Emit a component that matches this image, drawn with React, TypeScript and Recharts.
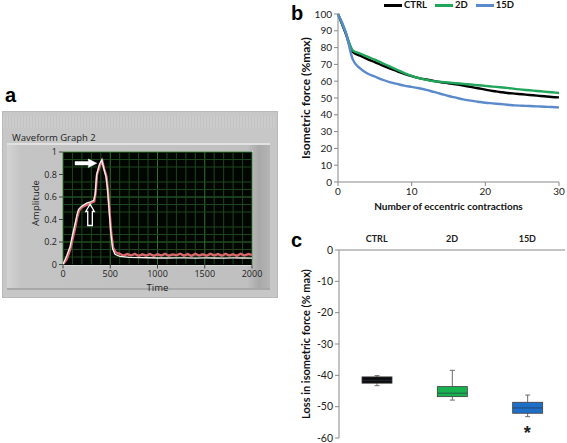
import React from 'react';
import {
  LineChart,
  Line,
  XAxis,
  YAxis,
  CartesianGrid,
  Legend,
  ReferenceDot,
  ReferenceLine,
  ComposedChart,
  Bar,
  Label,
} from 'recharts';

const FONT_A = '"Open Sans", "DejaVu Sans", sans-serif';
const FONT_BC = 'Lato, "Open Sans", sans-serif';
const FONT_LETTER = '"Liberation Sans", Arial, sans-serif';

// ---------------- Panel a: waveform ----------------
const timeTicks = [0, 500, 1000, 1500, 2000];
const timeMinorGrid = [100, 200, 300, 400, 600, 700, 800, 900, 1100, 1200, 1300, 1400, 1600, 1700, 1800, 1900];
const ampTicks = [0, 0.2, 0.4, 0.6, 0.8, 1];
const ampMinorGrid = [0.0667, 0.1333, 0.2667, 0.3333, 0.4667, 0.5333, 0.6667, 0.7333, 0.8667, 0.9333];

const whiteTime = [0, 40, 75, 100, 127, 150, 165, 200, 250, 300, 325, 340, 356, 385, 410, 430, 455, 470, 485, 505, 525, 550, 600, 700, 800, 900, 1000, 1100, 1200, 1300, 1400, 1500, 1600, 1700, 1800, 1900, 2000];
const whiteAmp = [0, 0.08, 0.16, 0.26, 0.36, 0.45, 0.49, 0.52, 0.545, 0.56, 0.57, 0.62, 0.8, 0.89, 0.93, 0.86, 0.78, 0.68, 0.52, 0.29, 0.14, 0.09, 0.072, 0.064, 0.061, 0.06, 0.058, 0.058, 0.059, 0.058, 0.057, 0.058, 0.058, 0.057, 0.058, 0.058, 0.057];

const redTime = [0, 40, 75, 100, 127, 150, 170, 200, 250, 300, 330, 345, 360, 390, 415, 435, 460, 475, 490, 510, 530, 555, 580, 600, 640, 680, 720, 760, 800, 840, 880, 920, 960, 1000, 1040, 1080, 1120, 1160, 1200, 1240, 1280, 1320, 1360, 1400, 1440, 1480, 1520, 1560, 1600, 1640, 1680, 1720, 1760, 1800, 1840, 1880, 1920, 1960, 2000];
const redAmp = [0, 0.05, 0.13, 0.22, 0.32, 0.42, 0.48, 0.51, 0.53, 0.55, 0.56, 0.64, 0.8, 0.88, 0.92, 0.85, 0.78, 0.66, 0.5, 0.28, 0.15, 0.11, 0.1, 0.095, 0.078, 0.092, 0.08, 0.094, 0.076, 0.09, 0.079, 0.093, 0.077, 0.091, 0.08, 0.095, 0.078, 0.09, 0.082, 0.096, 0.079, 0.092, 0.077, 0.094, 0.08, 0.09, 0.078, 0.095, 0.081, 0.092, 0.078, 0.094, 0.08, 0.091, 0.077, 0.095, 0.08, 0.093, 0.085];

const whiteData = whiteTime.map((t, i) => ({ t, amp: whiteAmp[i] }));
const redData = redTime.map((t, i) => ({ t, amp: redAmp[i] }));

// annotation anchors (data coordinates)
const peakArrowTip = { t: 357, amp: 0.9 };
const plateauArrowTip = { t: 286, amp: 0.536 };

// ---------------- Panel b: isometric force ----------------
const contractions = [0, 1, 2, 3, 4, 5, 6, 7, 8, 9, 10, 11, 12, 13, 14, 15, 16, 17, 18, 19, 20, 21, 22, 23, 24, 25, 26, 27, 28, 29, 30];
const ctrlForce = [100, 89, 77.4, 75.2, 73.2, 71.4, 69.4, 67.6, 66, 64.4, 63, 61.8, 61, 60.2, 59.4, 58.8, 58.2, 57.4, 56.6, 55.8, 55, 54.2, 53.6, 53, 52.6, 52.2, 51.8, 51.4, 51, 50.6, 50.4];
const d2Force = [100, 89.5, 78.4, 76.5, 74.6, 72.8, 70.8, 68.8, 66.8, 64.8, 63.2, 61.8, 60.8, 60, 59.6, 59.2, 58.8, 58.4, 58, 57.6, 57.2, 56.8, 56.4, 56, 55.4, 55, 54.6, 54.2, 53.8, 53.4, 53];
const d15Force = [100, 90, 73, 67.6, 64.6, 62.8, 61, 59.4, 58.4, 57.4, 56.6, 55.8, 54.8, 53.6, 52.4, 51.2, 50.2, 49.2, 48.4, 47.8, 47.2, 46.8, 46.4, 46, 45.6, 45.4, 45.2, 45, 44.8, 44.6, 44.4];
const forceTicks = [0, 10, 20, 30, 40, 50, 60, 70, 80, 90, 100];
const contractionTicks = [0, 10, 20, 30];

const forceData = contractions.map((n, i) => ({
  n,
  CTRL: ctrlForce[i],
  '2D': d2Force[i],
  '15D': d15Force[i],
}));

const seriesNames = ['CTRL', '2D', '15D'];
const lineColors = ['#000000', '#1fa65a', '#5a8acb'];

// ---------------- Panel c: loss boxplot ----------------
const groups = ['CTRL', '2D', '15D'];
const whiskerHigh = [-40.1, -38.4, -46.3];
const q3 = [-40.5, -43.6, -48.6];
const median = [-41.6, -45.7, -50.4];
const q1 = [-42.5, -46.8, -52.1];
const whiskerLow = [-43.3, -47.9, -53.2];
const boxColors = ['#0b0b0b', '#17b24f', '#1e6fc8'];
const lossTicks = [0, -10, -20, -30, -40, -50, -60];
const sigMarkY = -57.1;

const lossData = groups.map((g, i) => ({
  g,
  box: [q1[i], q3[i]],
  q1: q1[i],
  q3: q3[i],
  med: median[i],
  wLo: whiskerLow[i],
  wHi: whiskerHigh[i],
  color: boxColors[i],
}));

const BoxShape = (props: any) => {
  const { x, y, width, height, payload } = props;
  if (!payload) return null;
  const top = Math.min(y, y + height);
  const h = Math.abs(height);
  const ppu = h / (payload.q3 - payload.q1);
  const py = (v: number) => top + (payload.q3 - v) * ppu;
  const cx = x + width / 2;
  const cap = 2.5;
  return (
    <g>
      <line x1={cx} x2={cx} y1={py(payload.wHi)} y2={py(payload.q3)} stroke="#6b6b6b" strokeWidth={1} />
      <line x1={cx - cap} x2={cx + cap} y1={py(payload.wHi)} y2={py(payload.wHi)} stroke="#6b6b6b" strokeWidth={1} />
      <line x1={cx} x2={cx} y1={py(payload.q1)} y2={py(payload.wLo)} stroke="#6b6b6b" strokeWidth={1} />
      <line x1={cx - cap} x2={cx + cap} y1={py(payload.wLo)} y2={py(payload.wLo)} stroke="#6b6b6b" strokeWidth={1} />
      <rect x={x} y={top} width={width} height={h} fill={payload.color} stroke="#3d3d3d" strokeWidth={0.8} />
      <line x1={x} x2={x + width} y1={py(payload.med)} y2={py(payload.med)} stroke="#2b3b4b" strokeOpacity={0.8} strokeWidth={0.9} />
    </g>
  );
};

const LegendContent = () => (
  <div
    style={{
      display: 'flex',
      height: 14,
      alignItems: 'flex-start',
      fontFamily: FONT_BC,
      fontSize: 9.5,
      fontWeight: 700,
      color: '#111',
      lineHeight: '10px',
    }}
  >
    {seriesNames.map((name, i) => (
      <div key={name} style={{ display: 'flex', alignItems: 'center', height: 10, marginRight: 8 }}>
        <div style={{ width: 18, height: 3, background: lineColors[i] }} />
        <div style={{ marginLeft: 2 }}>{name}</div>
      </div>
    ))}
  </div>
);

const letterStyle: React.CSSProperties = {
  position: 'absolute',
  fontFamily: FONT_LETTER,
  fontWeight: 700,
  fontSize: 20,
  lineHeight: '20px',
  color: '#000',
};

export default function App() {
  return (
    <div
      style={{
        position: 'absolute',
        left: 0,
        top: 0,
        width: 567,
        height: 443,
        background: '#ffffff',
        overflow: 'hidden',
      }}
    >
      {/* Panel letters */}
      <div style={{ ...letterStyle, left: 5, top: 85 }}>a</div>
      <div style={{ ...letterStyle, left: 291, top: 3 }}>b</div>
      <div style={{ ...letterStyle, left: 291, top: 230 }}>c</div>

      {/* ---------- Panel a frame ---------- */}
      <div
        style={{
          position: 'absolute',
          left: 2,
          top: 111,
          width: 274,
          height: 185,
          background: '#c7c7c7',
          border: '1px solid #b9b9b9',
        }}
      />
      <div
        style={{
          position: 'absolute',
          left: 3,
          top: 116,
          width: 272,
          height: 12,
          background: 'repeating-linear-gradient(90deg, #cdcdcd 0px, #cdcdcd 2px, #c2c2c2 2px, #c2c2c2 3px)',
          opacity: 0.8,
        }}
      />
      <div
        style={{
          position: 'absolute',
          left: 12,
          top: 131,
          fontFamily: FONT_A,
          fontSize: 9.5,
          lineHeight: '13px',
          color: '#222',
        }}
      >
        Waveform Graph 2
      </div>
      <div
        style={{
          position: 'absolute',
          left: 7,
          top: 143,
          width: 263,
          height: 147,
          boxSizing: 'border-box',
          background: 'linear-gradient(90deg, #d4d4d4 0px, #c4c4c4 14px, #c0c0c0 240px, #a9a9a9 252px, #b5b5b5 263px)',
          borderTop: '2px solid #e2e2e2',
          borderBottom: '2px solid #a8a8a8',
        }}
      />
      <div
        style={{
          position: 'absolute',
          left: 62,
          top: 151,
          width: 191,
          height: 114.5,
          boxSizing: 'border-box',
          background: '#020602',
          border: '1px solid #d8d8d8',
        }}
      />
      <div style={{ position: 'absolute', left: 7, top: 143 }}>
        <LineChart width={263} height={149} margin={{ top: 9, right: 18, bottom: 1.5, left: 0 }}>
          <CartesianGrid
            horizontalValues={ampTicks}
            verticalValues={timeTicks}
            stroke="#2f722f"
            strokeWidth={1}
          />
          {ampMinorGrid.map((v) => (
            <ReferenceLine key={`h${v}`} y={v} stroke="#1d471d" strokeWidth={1} ifOverflow="hidden" />
          ))}
          {timeMinorGrid.map((v) => (
            <ReferenceLine key={`v${v}`} x={v} stroke="#1d471d" strokeWidth={1} ifOverflow="hidden" />
          ))}
          <XAxis
            dataKey="t"
            type="number"
            domain={[0, 2000]}
            ticks={timeTicks}
            allowDataOverflow
            height={26}
            axisLine={false}
            tickLine={{ stroke: '#444' }}
            tickSize={4}
            tick={{ fontSize: 9, fill: '#222', fontFamily: FONT_A }}
          >
            <Label
              content={(p: any) => {
                const vb = p.viewBox || {};
                return (
                  <text
                    x={vb.x + vb.width / 2}
                    y={vb.y + 22.5}
                    textAnchor="middle"
                    dominantBaseline="central"
                    fontSize={9.5}
                    fill="#222"
                    fontFamily={FONT_A}
                  >
                    Time
                  </text>
                );
              }}
            />
          </XAxis>
          <YAxis
            type="number"
            domain={[0, 1]}
            ticks={ampTicks}
            allowDataOverflow
            width={56}
            axisLine={false}
            tickLine={{ stroke: '#444' }}
            tickSize={4}
            tick={{ fontSize: 9, fill: '#222', fontFamily: FONT_A }}
          >
            <Label
              content={(p: any) => {
                const vb = p.viewBox || {};
                const cx = vb.x + 28;
                const cy = vb.y + 51;
                return (
                  <text
                    x={cx}
                    y={cy}
                    transform={`rotate(-90 ${cx} ${cy})`}
                    textAnchor="middle"
                    dominantBaseline="central"
                    fontSize={9.5}
                    fill="#222"
                    fontFamily={FONT_A}
                  >
                    Amplitude
                  </text>
                );
              }}
            />
          </YAxis>
          <Line
            data={redData}
            dataKey="amp"
            type="linear"
            stroke="#d8676b"
            strokeWidth={2.4}
            dot={false}
            isAnimationActive={false}
          />
          <Line
            data={whiteData}
            dataKey="amp"
            type="linear"
            stroke="#f6f1f1"
            strokeWidth={1.3}
            dot={false}
            isAnimationActive={false}
          />
          <ReferenceDot
            x={peakArrowTip.t}
            y={peakArrowTip.amp}
            ifOverflow="visible"
            shape={(p: any) => {
              const { cx, cy } = p;
              const pts = [
                [cx - 21.7, cy - 1.7],
                [cx - 8.4, cy - 1.7],
                [cx - 8.4, cy - 4.3],
                [cx, cy],
                [cx - 8.4, cy + 4.3],
                [cx - 8.4, cy + 1.7],
                [cx - 21.7, cy + 1.7],
              ]
                .map((q) => q.join(','))
                .join(' ');
              return <polygon points={pts} fill="#ffffff" stroke="#ffffff" strokeWidth={0.5} />;
            }}
          />
          <ReferenceDot
            x={plateauArrowTip.t}
            y={plateauArrowTip.amp}
            ifOverflow="visible"
            shape={(p: any) => {
              const { cx, cy } = p;
              const pts = [
                [cx, cy],
                [cx + 4.3, cy + 7.3],
                [cx + 2.3, cy + 7.3],
                [cx + 2.3, cy + 21.3],
                [cx - 2.3, cy + 21.3],
                [cx - 2.3, cy + 7.3],
                [cx - 4.3, cy + 7.3],
              ]
                .map((q) => q.join(','))
                .join(' ');
              return <polygon points={pts} fill="#050505" stroke="#ffffff" strokeWidth={1.3} />;
            }}
          />
        </LineChart>
      </div>

      {/* ---------- Panel b ---------- */}
      <div style={{ position: 'absolute', left: 290, top: 0 }}>
        <LineChart width={277} height={215} data={forceData} margin={{ top: 0, right: 8, bottom: 0, left: 0 }}>
          <Legend verticalAlign="top" align="left" wrapperStyle={{ left: 94 }} content={() => <LegendContent />} />
          <XAxis
            dataKey="n"
            type="number"
            domain={[0, 30]}
            ticks={contractionTicks}
            height={33}
            axisLine={{ stroke: '#878787' }}
            tickLine={{ stroke: '#878787' }}
            tickSize={4}
            tick={{ fontSize: 10, fill: '#222', fontFamily: FONT_BC }}
          >
            <Label
              content={(p: any) => {
                const vb = p.viewBox || {};
                return (
                  <text
                    x={vb.x + vb.width / 2}
                    y={vb.y + 24}
                    textAnchor="middle"
                    dominantBaseline="central"
                    fontSize={10}
                    fontWeight={700}
                    fill="#111"
                    fontFamily={FONT_BC}
                  >
                    Number of eccentric contractions
                  </text>
                );
              }}
            />
          </XAxis>
          <YAxis
            type="number"
            domain={[0, 100]}
            ticks={forceTicks}
            interval={0}
            width={48}
            axisLine={{ stroke: '#878787' }}
            tickLine={{ stroke: '#878787' }}
            tickSize={4}
            tick={{ fontSize: 10, fill: '#222', fontFamily: FONT_BC }}
          >
            <Label
              content={(p: any) => {
                const vb = p.viewBox || {};
                const cx = vb.x + 15;
                const cy = vb.y + vb.height / 2;
                return (
                  <text
                    x={cx}
                    y={cy}
                    transform={`rotate(-90 ${cx} ${cy})`}
                    textAnchor="middle"
                    dominantBaseline="central"
                    fontSize={12}
                    fontWeight={700}
                    fill="#111"
                    fontFamily={FONT_BC}
                  >
                    Isometric force (%max)
                  </text>
                );
              }}
            />
          </YAxis>
          {seriesNames.map((name, i) => (
            <Line
              key={name}
              dataKey={name}
              type="monotone"
              stroke={lineColors[i]}
              strokeWidth={2.4}
              dot={false}
              isAnimationActive={false}
            />
          ))}
        </LineChart>
      </div>

      {/* ---------- Panel c ---------- */}
      <div style={{ position: 'absolute', left: 290, top: 225 }}>
        <ComposedChart
          width={277}
          height={218}
          data={lossData}
          margin={{ top: 0, right: 2, bottom: 5, left: 0 }}
          barSize={30}
        >
          <XAxis
            dataKey="g"
            type="category"
            orientation="top"
            height={25}
            axisLine={{ stroke: '#878787' }}
            tickLine={false}
            tickSize={6}
            tick={{ fontSize: 9, fontWeight: 700, fill: '#222', fontFamily: FONT_BC }}
          />
          <YAxis
            type="number"
            domain={[-60, 0]}
            ticks={lossTicks}
            interval={0}
            width={49}
            axisLine={{ stroke: '#878787' }}
            tickLine={{ stroke: '#878787' }}
            tickSize={4}
            tick={{ fontSize: 10.5, fill: '#222', fontFamily: FONT_BC }}
          >
            <Label
              content={(p: any) => {
                const vb = p.viewBox || {};
                const cx = vb.x + 15;
                const cy = vb.y + vb.height / 2;
                return (
                  <text
                    x={cx}
                    y={cy}
                    transform={`rotate(-90 ${cx} ${cy})`}
                    textAnchor="middle"
                    dominantBaseline="central"
                    fontSize={11}
                    fontWeight={700}
                    fill="#111"
                    fontFamily={FONT_BC}
                  >
                    Loss in isometric force (% max)
                  </text>
                );
              }}
            />
          </YAxis>
          <Bar dataKey="box" shape={<BoxShape />} isAnimationActive={false} />
          <ReferenceDot
            x="15D"
            y={sigMarkY}
            ifOverflow="visible"
            shape={(p: any) => (
              <text
                x={p.cx}
                y={p.cy + 10}
                textAnchor="middle"
                fontSize={18}
                fontWeight={700}
                fontFamily={FONT_LETTER}
                fill="#222"
              >
                *
              </text>
            )}
          />
        </ComposedChart>
      </div>
    </div>
  );
}
